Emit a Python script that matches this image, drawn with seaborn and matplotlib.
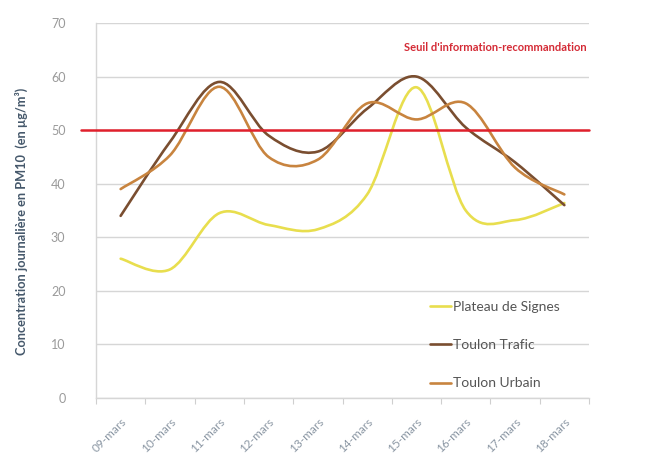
import numpy as np
import pandas as pd
import matplotlib
matplotlib.use("Agg")
import matplotlib.pyplot as plt
import matplotlib.transforms as mtransforms
import seaborn as sns
from matplotlib.path import Path
from matplotlib.patches import PathPatch
from matplotlib.lines import Line2D

# ---- data ----
dates = ["09-mars", "10-mars", "11-mars", "12-mars", "13-mars",
         "14-mars", "15-mars", "16-mars", "17-mars", "18-mars"]
plateau_de_signes = [26, 24, 34.5, 32.3, 31.5, 38, 58, 35, 33.2, 36.4]
toulon_trafic = [34, 47.8, 59, 49, 46, 54, 60, 50.5, 44, 36]
toulon_urbain = [39, 45.3, 58.1, 45, 44.5, 55, 52, 55, 43, 38]
series_names = ["Plateau de Signes", "Toulon Trafic", "Toulon Urbain"]
threshold = 50
threshold_label = "Seuil d'information-recommandation"
y_label = "Concentration journalière en PM10  (en µg/m³)"
y_ticks = [0, 10, 20, 30, 40, 50, 60, 70]

colors = ["#e8de4e", "#7a4e30", "#c8843f"]

# ---- style ----
sns.set_theme(style="white")
plt.rcParams["font.family"] = ["Lato", "DejaVu Sans"]

rows = []
for name, vals in zip(series_names, [plateau_de_signes, toulon_trafic, toulon_urbain]):
    for i, (d, v) in enumerate(zip(dates, vals)):
        rows.append({"station": name, "pos": i, "date": d, "value": v})
df = pd.DataFrame(rows)

fig = plt.figure(figsize=(6.54, 4.75), dpi=100)
ax = fig.add_axes([96 / 654, 1 - 398 / 475, 493 / 654, 375 / 475])

sns.lineplot(data=df, x="pos", y="value", hue="station", hue_order=series_names,
             palette=colors, linewidth=1.8, sort=False, legend=False, ax=ax)


def smooth_path(xy):
    n = len(xy)
    verts = [xy[0]]
    codes = [Path.MOVETO]
    for i in range(n - 1):
        p0 = xy[i - 1] if i > 0 else xy[i]
        p1 = xy[i]
        p2 = xy[i + 1]
        p3 = xy[i + 2] if i + 2 < n else xy[i + 1]
        c1 = p1 + (p2 - p0) / 6.0
        c2 = p2 - (p3 - p1) / 6.0
        verts += [c1, c2, p2]
        codes += [Path.CURVE4] * 3
    return Path(verts, codes)


handles = []
for line, name in zip(list(ax.lines), series_names):
    xy = np.asarray(line.get_xydata(), dtype=float)
    col = line.get_color()
    patch = PathPatch(smooth_path(xy), facecolor="none", edgecolor=col,
                      linewidth=1.9, capstyle="round", joinstyle="round", zorder=3)
    ax.add_patch(patch)
    line.set_visible(False)
    handles.append(Line2D([], [], color=col, linewidth=1.9))

# threshold line
ax.axhline(threshold, xmin=-0.03, xmax=1.0, color="#e0202c", linewidth=1.8,
           clip_on=False, zorder=4)
trans = mtransforms.blended_transform_factory(ax.transAxes, ax.transData)
ax.text(0.995, 65.4, threshold_label, transform=trans, ha="right", va="center",
        color="#d42a35", fontsize=8, fontweight="bold")

# axes
ax.set_xlim(-0.5, len(dates) - 0.5)
ax.set_ylim(0, 70)
ax.set_yticks(y_ticks)
ax.set_yticklabels([str(t) for t in y_ticks])
ax.set_xticks(range(len(dates)))
ax.set_xticklabels(dates, rotation=45, ha="right", rotation_mode="anchor")
ax.set_xticks(np.arange(-0.5, len(dates), 1.0), minor=True)
ax.tick_params(axis="x", which="major", length=0, pad=13, labelsize=8.5,
               labelcolor="#8a96a3")
ax.tick_params(axis="x", which="minor", length=4, color="#cfcfcf", width=0.8,
               direction="out", bottom=True)
ax.tick_params(axis="y", length=0, pad=22, labelsize=9, labelcolor="#9a9a9a")
ax.grid(axis="y", color="#d6d6d6", linewidth=1.0)
ax.grid(axis="x", visible=False)
ax.set_axisbelow(True)
for side in ["top", "right"]:
    ax.spines[side].set_visible(False)
for side in ["left", "bottom"]:
    ax.spines[side].set_color("#d6d6d6")
    ax.spines[side].set_linewidth(1.0)

ax.set_xlabel("")
ax.set_ylabel(y_label, fontsize=9.2, fontweight="bold", color="#45586b")
ax.yaxis.set_label_coords(-0.138, 0.47)

leg = ax.legend(handles, series_names, loc="lower left", bbox_to_anchor=(0.666, 0.008),
                frameon=False, fontsize=10, handlelength=1.5, handletextpad=0.15,
                labelspacing=1.88, borderaxespad=0)
for t in leg.get_texts():
    t.set_color("#555555")

fig.savefig("out.png", dpi=100, facecolor="white")
